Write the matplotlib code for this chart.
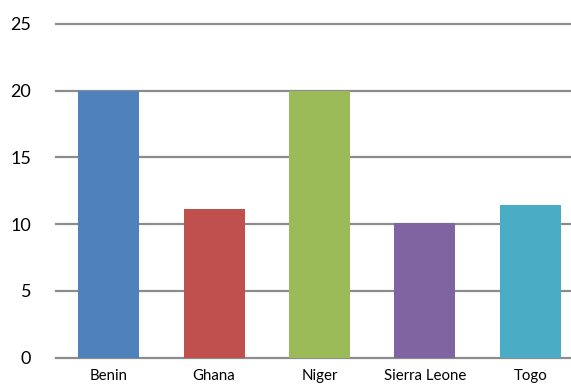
import matplotlib
matplotlib.use('Agg')
import matplotlib.pyplot as plt

countries = ['Benin', 'Ghana', 'Niger', 'Sierra Leone', 'Togo']
values = [20.0, 11.1, 20.0, 10.1, 11.4]
colors = ['#4F81BD', '#C0504D', '#9BBB59', '#8064A2', '#4BACC6']
yticks = [0, 5, 10, 15, 20, 25]

plt.rcParams['font.family'] = ['Lato', 'DejaVu Sans']

fig = plt.figure(figsize=(5.71, 3.85), dpi=100)
# axes runs a bit past the right edge of the figure
ax = fig.add_axes([56 / 571, 27.5 / 385, 527 / 571, 333.5 / 385])

x = list(range(len(countries)))
ax.bar(x, values, width=0.58, color=colors, zorder=3)

ax.set_xlim(-0.5, len(countries) - 0.5)
ax.set_ylim(0, 25)
ax.set_yticks(yticks)
ax.set_xticks(x)
ax.set_xticklabels(countries, fontsize=10.8)
ax.tick_params(axis='y', labelsize=13, length=0, pad=18)
ax.tick_params(axis='x', length=0, pad=8)

ax.grid(axis='y', color='#8c8c8c', linewidth=1.6, zorder=0)
ax.set_axisbelow(True)
for line in ax.get_ygridlines():
    line.set_clip_on(False)
for s in ax.spines.values():
    s.set_visible(False)

fig.savefig('out.png', dpi=100)
